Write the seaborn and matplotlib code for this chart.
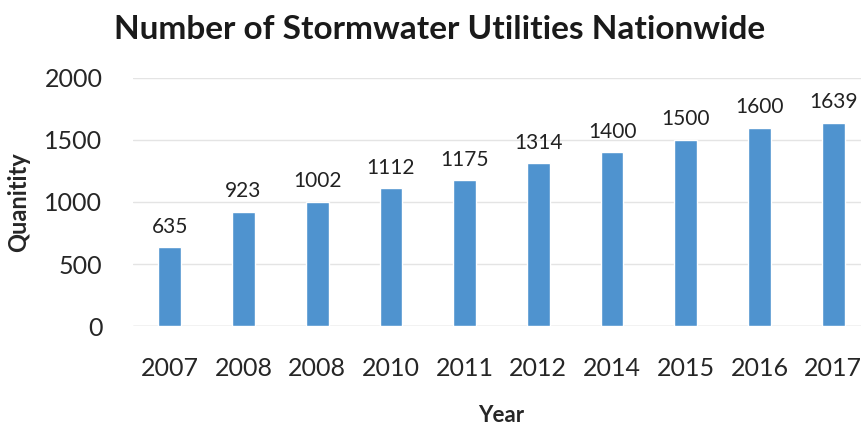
import matplotlib
matplotlib.use("Agg")
import matplotlib.pyplot as plt
import numpy as np
import seaborn as sns

# chart data
years = ["2007", "2008", "2008", "2010", "2011", "2012", "2014", "2015", "2016", "2017"]
quantity = [635, 923, 1002, 1112, 1175, 1314, 1400, 1500, 1600, 1639]
y_ticks = [0, 500, 1000, 1500, 2000]

sns.set_style("white")
plt.rcParams["font.family"] = ["Lato", "DejaVu Sans"]

fig = plt.figure(figsize=(8.62, 4.24), dpi=100)
ax = fig.add_axes([0.1543, 0.2311, 0.855, 0.585])

pos = np.arange(len(years))
sns.barplot(x=pos, y=quantity, color="#4F93CF", width=0.31, saturation=1,
            native_scale=True, ax=ax, zorder=3)

for x, v in zip(pos, quantity):
    ax.text(x, v + 85, str(v), ha="center", va="bottom", fontsize=15, color="#222222")

ax.set_xlim(-0.5, len(years) - 0.5)
ax.set_ylim(0, 2000)
ax.set_yticks(y_ticks)
ax.set_xticks(pos)
ax.set_xticklabels(years, fontsize=18)
ax.tick_params(axis="y", labelsize=18, length=0, pad=22)
ax.tick_params(axis="x", length=0, pad=22)
ax.yaxis.grid(True, color="#e4e4e4", linewidth=1, zorder=0)
for s in ax.spines.values():
    s.set_visible(False)
ax.axhline(0, color="#d8d8d8", linewidth=1, zorder=2)

ax.set_xlabel("Year", fontsize=16, fontweight="bold", labelpad=18)
ax.set_ylabel("Quanitity", fontsize=17, fontweight="bold", labelpad=10)
fig.text(0.51, 0.93, "Number of Stormwater Utilities Nationwide",
         ha="center", va="center", fontsize=24, fontweight="bold", color="#1a1a1a")

fig.savefig("out.png", dpi=100)
